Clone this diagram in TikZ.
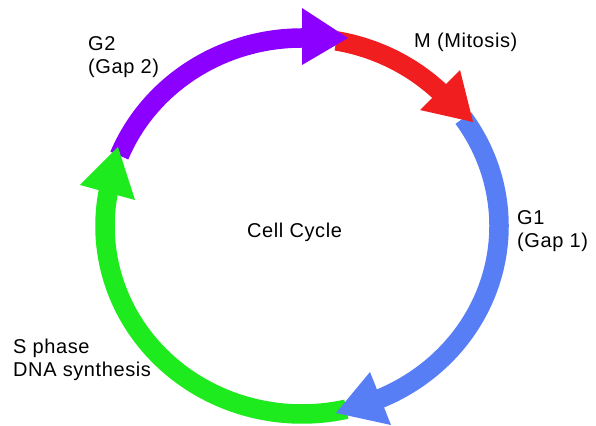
\documentclass[tikz,border=0pt]{standalone}
\usepackage{fontspec}
\setmainfont{Liberation Sans}[LetterSpace=3]
\usetikzlibrary{calc}
\definecolor{cpurple}{RGB}{140,0,255}
\definecolor{cred}{RGB}{240,30,30}
\definecolor{cblue}{RGB}{88,126,245}
\definecolor{cgreen}{RGB}{30,235,30}
\begin{document}
\begin{tikzpicture}[x=1pt,y=1pt,
  body/.style={line width=19.5pt},
  lbl/.style={font=\fontsize{20}{23}\selectfont, inner sep=0pt, anchor=base west, align=left}]
\useasboundingbox (0,0) rectangle (596,425);
\fill[white] (0,0) rectangle (596,425);
\coordinate (C) at (302,199);
% arc bodies
\draw[body,cpurple] ($(C)+(158:197 and 188)$) arc[start angle=158,end angle=89,x radius=197,y radius=188];
\draw[body,cred] ($(C)+(80:197 and 188)$) arc[start angle=80,end angle=45,x radius=197,y radius=188];
\draw[body,cblue] ($(C)+(35:197 and 188)$) arc[start angle=35,end angle=-67,x radius=197,y radius=188];
\draw[body,cgreen] ($(C)+(-77:197 and 188)$) arc[start angle=-77,end angle=-191,x radius=197,y radius=188];
% arrow heads
\coordinate (pa) at (302,417); \coordinate (pb) at (302,360); \coordinate (pt) at (348,387);
\coordinate (ra) at (420,315); \coordinate (rb) at (460,355); \coordinate (rt) at (473,303);
\coordinate (ba) at (370,53);  \coordinate (bb) at (391,0);   \coordinate (bt) at (336,12);
\coordinate (ga) at (80,240);  \coordinate (gb) at (135,225); \coordinate (gt) at (118,278);
\fill[cpurple] (pa) -- (pt) -- (pb) -- cycle;
\fill[cred] (ra) -- (rt) -- (rb) -- cycle;
\fill[cblue] (ba) -- (bt) -- (bb) -- cycle;
\fill[cgreen] (ga) -- (gt) -- (gb) -- cycle;
% labels (base anchor = baseline of last line)
\node[lbl] (g2) at (88,351) {G2\\(Gap 2)};
\node[lbl] (m) at (414,377) {M (Mitosis)};
\node[lbl] (cc) at (247,187) {Cell Cycle};
\node[lbl] (g1) at (517,177) {G1\\(Gap 1)};
\node[lbl] (s) at (13,48) {S phase\\DNA synthesis};
\end{tikzpicture}
\end{document}
